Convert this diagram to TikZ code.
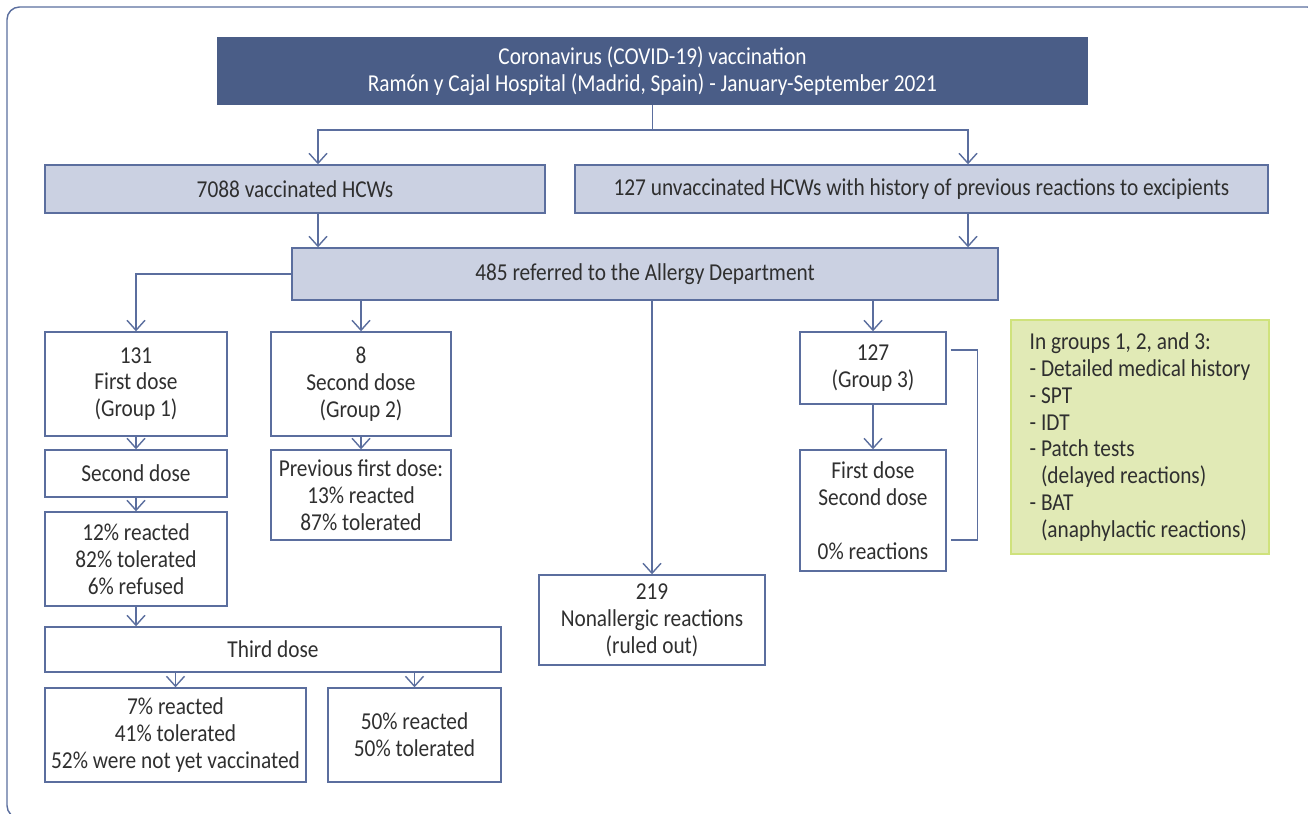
\documentclass[tikz,border=0pt]{standalone}
\usepackage{fontspec}
\setmainfont{Carlito}[FakeStretch=0.88]
\usetikzlibrary{arrows.meta,calc}

\definecolor{linkblue}{HTML}{5B6E9E}
\definecolor{headblue}{HTML}{4A5D87}
\definecolor{boxgray}{HTML}{CBD1E2}
\definecolor{notegreen}{HTML}{E1EAB6}
\definecolor{noteline}{HTML}{CFE27C}
\definecolor{txtgray}{HTML}{2F2F2F}

\tikzset{
    box/.style={draw=linkblue, line width=0.8pt, align=center, text=txtgray,
        inner sep=1pt, font=\fontsize{13.8}{15.3}\selectfont},
    shaded/.style={box, fill=boxgray},
    header/.style={box, fill=headblue, draw=headblue, text=white},
    note/.style={box, draw=noteline, fill=notegreen, align=left},
    link/.style={draw=linkblue, line width=0.8pt},
    arr/.style={link, -{Straight Barb[length=2mm,width=3.6mm]}},
    frame/.style={draw=linkblue, line width=0.8pt, rounded corners=0.25cm}
}

\begin{document}
\begin{tikzpicture}[x=0.02cm, y=-0.02cm]
    \useasboundingbox (0,0) rectangle (1308,814);
    \draw[frame] (7,7) rectangle (1320,818);

    % top of the chart
    \node[header, minimum width=17.38cm, minimum height=1.32cm] (title)
        at (652.5,71) {Coronavirus (COVID-19) vaccination\\
        Ramón y Cajal Hospital (Madrid, Spain) - January-September 2021};
    \node[shaded, minimum width=10cm, minimum height=0.96cm] (vac)
        at (295,189) {7088 vaccinated HCWs};
    \node[shaded, minimum width=13.86cm, minimum height=0.96cm] (unvac)
        at (921.5,189) {127 unvaccinated HCWs with history of previous
        reactions to excipients};
    \node[shaded, minimum width=14.12cm, minimum height=1.04cm] (allergy)
        at (645,274) {485 referred to the Allergy Department};

    % group 1
    \node[box, minimum width=3.64cm, minimum height=2.08cm] (grpone)
        at (136,384) {131\\First dose\\(Group 1)};
    \node[box, minimum width=3.64cm, minimum height=0.94cm] (second)
        at (136,473.5) {Second dose};
    \node[box, minimum width=3.64cm, minimum height=1.88cm] (react)
        at (136,559) {12\% reacted\\82\% tolerated\\6\% refused};
    \node[box, minimum width=9.12cm, minimum height=0.9cm] (third)
        at (273,649.5) {Third dose};
    \node[box, minimum width=5.22cm, minimum height=1.88cm] (thirdl)
        at (175.5,735) {7\% reacted\\41\% tolerated\\52\% were not yet
        vaccinated};
    \node[box, minimum width=3.46cm, minimum height=1.88cm] (thirdr)
        at (414.5,735) {50\% reacted\\50\% tolerated};

    % group 2
    \node[box, minimum width=3.6cm, minimum height=2.08cm] (grptwo)
        at (361,384) {8\\Second dose\\(Group 2)};
    \node[box, minimum width=3.6cm, minimum height=1.8cm] (prev)
        at (361,495) {Previous first dose:\\13\% reacted\\87\% tolerated};

    % ruled out
    \node[box, minimum width=4.52cm, minimum height=1.8cm] (nonall)
        at (652,620) {219\\Nonallergic reactions\\(ruled out)};

    % group 3
    \node[box, minimum width=2.92cm, minimum height=1.44cm] (grpthree)
        at (873,368) {127\\(Group 3)};
    \node[box, minimum width=2.92cm, minimum height=2.42cm] (doses)
        at (873,510.5) {First dose\\Second dose\\~\\0\% reactions};

    \node[note, minimum width=5.16cm, minimum height=4.68cm] (tests)
        at (1140,437) {In groups 1, 2, and 3:\\- Detailed medical history\\
        - SPT\\- IDT\\- Patch tests\\\hphantom{- }(delayed reactions)\\
        - BAT\\\hphantom{- }(anaphylactic reactions)};

    \coordinate (ka) at (318,130);
    \coordinate (kb) at (968,130);

    \draw[arr] (title.south) |- (ka) -- (ka |- vac.north);
    \draw[arr] (title.south) |- (kb) -- (kb |- unvac.north);
    \draw[arr] (ka |- vac.south) -- (ka |- allergy.north);
    \draw[arr] (kb |- unvac.south) -- (kb |- allergy.north);

    \draw[arr] (allergy.west) -| (grpone.north);
    \draw[arr] (allergy.south -| grptwo.north) -- (grptwo.north);
    \draw[arr] (allergy.south -| nonall.north) -- (nonall.north);
    \draw[arr] (allergy.south -| grpthree.north) -- (grpthree.north);

    \draw[arr] (grpone) -- (second);
    \draw[arr] (second) -- (react);
    \draw[arr] (react.south) -- (react.south |- third.north);
    \draw[arr] (thirdl.north |- third.south) -- (thirdl.north);
    \draw[arr] (thirdr.north |- third.south) -- (thirdr.north);
    \draw[arr] (grptwo) -- (prev);
    \draw[arr] (grpthree) -- (doses);

    \draw[link] ([shift={(4,-18)}]grpthree.east) -| ++(27,190) -- ++(-27,0);
\end{tikzpicture}
\end{document}
